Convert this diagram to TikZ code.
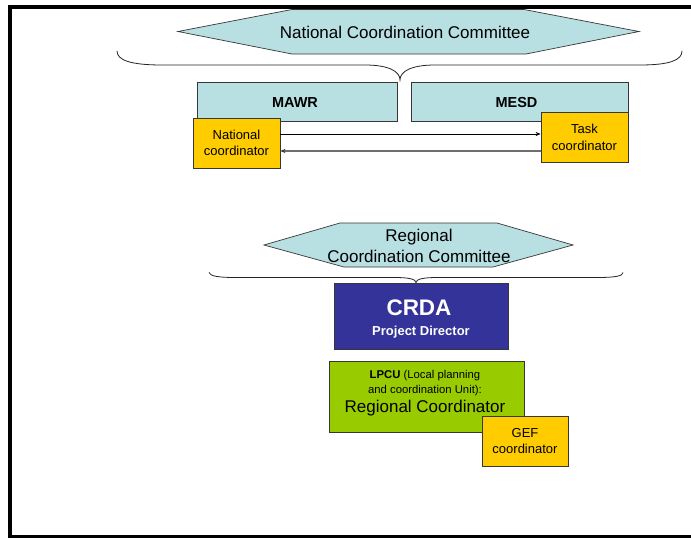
\documentclass[tikz,border=0pt]{standalone}
\usepackage{fontspec}
\setmainfont{Liberation Sans}
\usetikzlibrary{arrows.meta}
\definecolor{hexfill}{RGB}{184,223,226}
\definecolor{coordfill}{RGB}{255,204,0}
\definecolor{crdafill}{RGB}{51,51,153}
\definecolor{lpcufill}{RGB}{153,204,0}
\definecolor{edgegray}{RGB}{55,55,55}
\definecolor{arrowgray}{RGB}{110,110,110}
\tikzset{
  boxnode/.style={draw=edgegray, line width=0.8pt, inner sep=0pt, align=center},
  hexshape/.style={draw=edgegray, line width=0.7pt, fill=hexfill},
  bracepath/.style={draw=black!85, line width=0.8pt},
  fseventeen/.style={font=\fontsize{17}{21}\selectfont},
  fbold/.style={font=\fontsize{14.5}{17}\selectfont\bfseries},
  fsmall/.style={font=\fontsize{11.3}{14}\selectfont},
  tip/.style={-{Stealth[length=5pt,width=4pt]}}
}
\begin{document}
\begin{tikzpicture}[x=1pt,y=-1pt]
\useasboundingbox (0,0) rectangle (691,538);
\fill[white] (-10,-10) rectangle (710,550);

% National coordination committee hexagon
\draw[hexshape] (178,31.5) -- (292,9.5) -- (524,9.5) -- (639,31.5) -- (526,54) -- (292,54) -- cycle;
\node[fseventeen] (ncc) at (405,32) {National Coordination Committee};

% brace 1
\coordinate (b1l) at (117,51);
\coordinate (b1t) at (400,80);
\coordinate (b1r) at (682,51);
\draw[bracepath] (b1l) .. controls (117,60) and (130,65) .. (162,65) -- (365,65)
  .. controls (390,65) and (400,72) .. (b1t)
  .. controls (400,72) and (410,65) .. (435,65) -- (640,65)
  .. controls (670,65) and (682,60) .. (b1r);

% ministries
\node[boxnode, fill=hexfill, minimum width=200pt, minimum height=39pt] (mawr) at (297,101.5) {};
\node[fbold] (mawrt) at (295,102.5) {MAWR};
\node[boxnode, fill=hexfill, minimum width=217pt, minimum height=39pt] (mesd) at (519.5,101.5) {};
\node[fbold] (mesdt) at (516.5,102.5) {MESD};

% coordinators
\node[boxnode, fill=coordfill, minimum width=87pt, minimum height=50pt,
      font=\fontsize{13}{15.5}\selectfont] (nat) at (236.5,143) {National\\coordinator};
\node[boxnode, fill=coordfill, minimum width=87pt, minimum height=50pt,
      font=\fontsize{13}{17}\selectfont] (task) at (584.5,137) {Task\\coordinator};

\draw[tip, black, line width=0.6pt] ([yshift=9pt]nat.east) -- ([yshift=3pt]task.west);
\draw[-{Stealth[length=5pt,width=4pt,color=black!80]}, draw=arrowgray, line width=1.6pt] ([yshift=-14pt]task.west) -- ([yshift=-8pt]nat.east);

% Regional coordination committee hexagon
\draw[hexshape] (264,245) -- (340,223) -- (497,223) -- (573,245) -- (493,267) -- (344,267) -- cycle;
\node[fseventeen, align=center] (rcc) at (419,245.5) {Regional\\Coordination Committee};

% brace 2
\coordinate (b2l) at (209,272.5);
\coordinate (b2t) at (416,282.5);
\coordinate (b2r) at (623,272.5);
\draw[bracepath] (b2l) .. controls (210,276) and (218,277.5) .. (235,277.5) -- (395,277.5)
  .. controls (408,277.5) and (416,279) .. (b2t)
  .. controls (416,279) and (424,277.5) .. (437,277.5) -- (598,277.5)
  .. controls (615,277.5) and (623,276) .. (b2r);

% CRDA
\node[boxnode, fill=crdafill, minimum width=174pt, minimum height=66pt] (crda) at (421,316) {};
\node[text=white, font=\fontsize{22.5}{26}\selectfont\bfseries] (crdat) at (419,308) {CRDA};
\node[text=white, font=\fontsize{13}{15}\selectfont\bfseries] (pdir) at (421,332) {Project Director};

% LPCU
\node[boxnode, fill=lpcufill, minimum width=195pt, minimum height=71pt] (lpcu) at (426.5,396.5) {};
\node[fsmall] (lp1) at (425,376) {\textbf{LPCU} (Local planning};
\node[fsmall] (lp2) at (425,390.5) {and coordination Unit):};
\node[fseventeen] (lp3) at (425,408) {Regional Coordinator};

% GEF
\node[boxnode, fill=coordfill, minimum width=86pt, minimum height=50pt,
      font=\fontsize{13}{16}\selectfont] (gef) at (525,441) {GEF\\coordinator};

% frame
\draw[black, line width=4pt] (700,7) -- (10,7) -- (10,536.5) -- (700,536.5);
\end{tikzpicture}
\end{document}
